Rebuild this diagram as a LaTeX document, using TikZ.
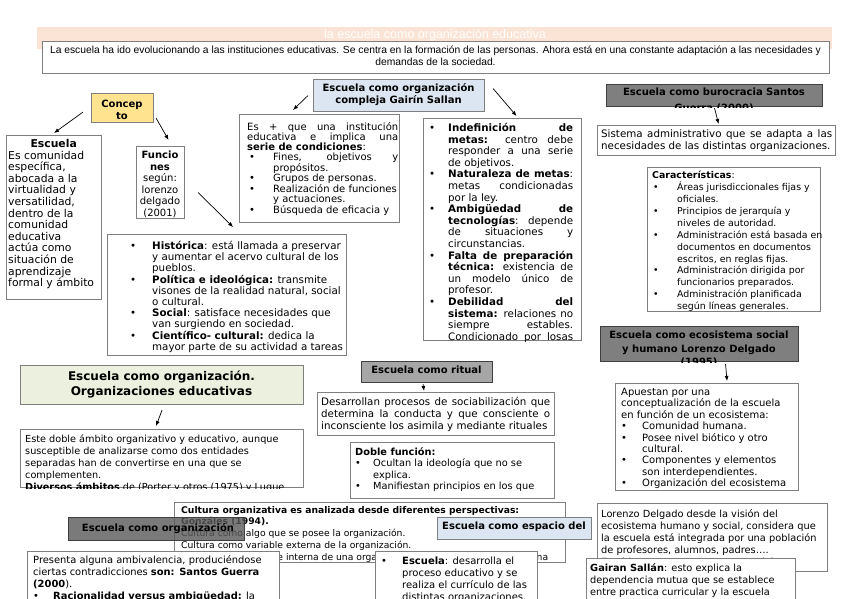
\documentclass[tikz,border=0pt]{standalone}
\usepackage{fontspec}
\setmainfont{DejaVu Sans}
\newfontfamily\introfont{Liberation Sans}
\usetikzlibrary{arrows.meta,positioning}
\definecolor{peach}{HTML}{FBE4D5}
\definecolor{boxline}{HTML}{7F7F7F}
\definecolor{darkline}{HTML}{404040}
\definecolor{conceptfill}{HTML}{FFE38F}
\definecolor{bluefill}{HTML}{DCE6F2}
\definecolor{greenfill}{HTML}{EBF1DE}
\definecolor{darkfill}{HTML}{7F7F7F}
\definecolor{ritualfill}{HTML}{A6A6A6}
\newcommand{\fsz}[2]{\fontsize{#1}{#2}\selectfont}
\newlength{\jw}\newlength{\bind}\newlength{\boff}
\newcommand{\jl}[1]{\makebox[\jw][s]{#1}}
\newcommand{\bu}{\makebox[\bind][l]{\hspace*{\boff}•}}
\newcommand{\ct}{\hspace*{\bind}}
\tikzset{
  box/.style={draw=boxline, line width=1.1pt, fill=white, anchor=north west, inner sep=0pt},
  txt/.style={anchor=north west, inner sep=0pt, align=left},
  ctxt/.style={anchor=north, inner sep=0pt, align=center, font=\fsz{10}{12}\bfseries},
  arr/.style={-{Latex[length=5pt,width=4pt]}, line width=0.7pt},
}

\begin{document}
\begin{tikzpicture}[x=1pt,y=-1pt]
\fill[white] (0,0) rectangle (848,599);
\useasboundingbox (0,0) rectangle (848,599);

% title band
\node[fill=peach, anchor=north west, minimum width=795, minimum height=22, inner sep=0pt] (banner) at (37,27) {};
\node[anchor=north, inner sep=0pt, text=white, font=\introfont\fsz{12.5}{14}] (bannertxt) at (435,29) {la escuela como organización educativa};
\node[box, minimum width=787, minimum height=32] (intro) at (42,41) {};
\node[anchor=north, inner sep=0pt, align=center, font=\introfont\fsz{10.3}{12}] (introtxt) at (435.5,46) {La escuela ha ido evolucionando a las instituciones educativas. Se centra en la formación de las personas. Ahora está en una constante adaptación a las necesidades y\\demandas de la sociedad.};

% concepto
\node[box, fill=conceptfill, minimum width=62, minimum height=29] (concepto) at (91,93) {};
\node[ctxt] (conceptotxt) at (122,100) {Concep\\to};

\node[box, minimum width=95, minimum height=164] (escuela) at (6,135) {};
\begin{scope}
\clip (escuela.north west) rectangle (escuela.south east);
\node[txt, font=\fsz{10.8}{11.6}] (escuelatxt) at (8,139) {\makebox[91pt]{\bfseries Escuela}\\Es comunidad\\específica,\\abocada a la\\virtualidad y\\versatilidad,\\dentro de la\\comunidad\\educativa\\actúa como\\situación de\\aprendizaje\\formal y ámbito};
\end{scope}

\node[box, minimum width=48, minimum height=72] (funciones) at (136,146) {};
\begin{scope}
\clip (funciones.north west) rectangle (funciones.south east);
\node[anchor=north, inner sep=0pt, align=center, font=\fsz{10}{11.5}] (funcionestxt) at (160,151) {\textbf{Funcio}\\\textbf{nes}\\según:\\lorenzo\\delgado\\(2001)};
\end{scope}

\draw[arr] ([shift={(-8,4)}]concepto.west) -- ([shift={(0,-2)}]escuela.north);
\draw[arr] ([shift={(2,-5)}]concepto.south east) -- ([shift={(8,-6)}]funciones.north);

% funciones lorenzo delgado
\node[box, minimum width=239, minimum height=121] (historica) at (107,234) {};
\setlength{\bind}{22pt}\setlength{\boff}{0pt}
\begin{scope}
\clip (historica.north west) rectangle (historica.south east);
\node[txt, font=\fsz{10.3}{11.2}] (historicatxt) at (130,241) {%
\bu\textbf{Histórica}: está llamada a preservar\\
\ct y aumentar el acervo cultural de los\\
\ct pueblos.\\
\bu\textbf{Política e ideológica:} transmite\\
\ct visones de la realidad natural, social\\
\ct o cultural.\\
\bu\textbf{Social}: satisface necesidades que\\
\ct van surgiendo en sociedad.\\
\bu\textbf{Científico- cultural:} dedica la\\
\ct mayor parte de su actividad a tareas};
\end{scope}
\draw[arr] ([shift={(13,10)}]funciones.east) -- ([shift={(6,-7)}]historica.north);

% gairin sallan
\node[box, fill=bluefill, minimum width=171, minimum height=32] (gairin) at (313,79) {};
\begin{scope}
\clip (gairin.north west) rectangle (gairin.south east);
\node[ctxt] (gairintxt) at (398.5,83) {Escuela como organización\\compleja Gairín Sallan};
\end{scope}

\node[box, minimum width=160, minimum height=108] (condiciones) at (239,114) {};
\setlength{\jw}{151pt}\setlength{\bind}{26pt}\setlength{\boff}{2pt}
\begin{scope}
\clip (condiciones.north west) rectangle (condiciones.south east);
\node[txt, font=\fsz{10}{10}] (condicionestxt) at (247,122) {%
\jl{Es + que una institución}\\
\jl{educativa e implica una}\\
\textbf{serie de condiciones}:\\
\bu\makebox[125pt][s]{Fines, objetivos y}\\
\ct propósitos.\\
\bu Grupos de personas.\\
\bu Realización de funciones\\
\ct y actuaciones.\\
\bu Búsqueda de eficacia y};
\end{scope}

\node[box, minimum width=158, minimum height=222] (metas) at (423,118) {};
\setlength{\jw}{125pt}\setlength{\bind}{19pt}\setlength{\boff}{0pt}
\begin{scope}
\clip (metas.north west) rectangle (metas.south east);
\node[txt, font=\fsz{10.3}{11.6}] (metastxt) at (429,123) {%
\bu\jl{\textbf{Indefinición de}}\\
\ct\jl{\textbf{metas:} centro debe}\\
\ct\jl{responder a una serie}\\
\ct de objetivos.\\
\bu\jl{\textbf{Naturaleza de metas}:}\\
\ct\jl{metas condicionadas}\\
\ct por la ley.\\
\bu\jl{\textbf{Ambigüedad de}}\\
\ct\jl{\textbf{tecnologías}: depende}\\
\ct\jl{de situaciones y}\\
\ct circunstancias.\\
\bu\jl{\textbf{Falta de preparación}}\\
\ct\jl{\textbf{técnica:} existencia de}\\
\ct\jl{un modelo único de}\\
\ct profesor.\\
\bu\jl{\textbf{Debilidad del}}\\
\ct\jl{\textbf{sistema:} relaciones no}\\
\ct\jl{siempre estables.}\\
\ct\jl{Condicionado por losas}};
\end{scope}
\draw[arr] ([shift={(-5,0)}]gairin.west) -- ([shift={(54,-4)}]condiciones.north west);
\draw[arr] ([shift={(8,-7)}]gairin.east) -- ([shift={(14,-2)}]metas.north);

% burocracia
\node[box, fill=darkfill, draw=darkline, minimum width=216, minimum height=22] (buro) at (606,84) {};
\begin{scope}
\clip (buro.north west) rectangle (buro.south east);
\node[ctxt, font=\fsz{10}{16}\bfseries] (burotxt) at (714,88) {Escuela como burocracia Santos\\Guerra (2000)};
\end{scope}
\node[box, minimum width=238, minimum height=30] (sistema) at (597,125) {};
\setlength{\jw}{231pt}
\node[txt, font=\fsz{10.3}{12}] (sistematxt) at (601,129) {%
\jl{Sistema administrativo que se adapta a las}\\necesidades de las distintas organizaciones.};
\draw[arr] ([shift={(0,1)}]buro.south) -- ([shift={(2,-1)}]sistema.north);

\node[box, minimum width=173, minimum height=144] (caract) at (647,167) {};
\setlength{\bind}{25pt}\setlength{\boff}{1pt}
\begin{scope}
\clip (caract.north west) rectangle (caract.south east);
\node[txt, font=\fsz{9.4}{11.9}] (caracttxt) at (652,171) {%
\textbf{Características}:\\
\bu Áreas jurisdiccionales fijas y\\
\ct oficiales.\\
\bu Principios de jerarquía y\\
\ct niveles de autoridad.\\
\bu Administración está basada en\\
\ct documentos en documentos\\
\ct escritos, en reglas fijas.\\
\bu Administración dirigida por\\
\ct funcionarios preparados.\\
\bu Administración planificada\\
\ct según líneas generales.};
\end{scope}

% organizaciones educativas
\node[box, fill=greenfill, minimum width=283, minimum height=39] (orgedu) at (20,365) {};
\node[ctxt, font=\fsz{12}{15}\bfseries] (orgedutxt) at (161.5,371) {Escuela como organización.\\Organizaciones educativas};
\node[box, minimum width=283, minimum height=58] (doble) at (20,429) {};
\begin{scope}
\clip (doble.north west) rectangle (doble.south east);
\node[txt, font=\fsz{9.7}{12}] (dobletxt) at (25,435) {Este doble ámbito organizativo y educativo, aunque\\susceptible de analizarse como dos entidades\\separadas han de convertirse en una que se\\complementen.\\\textbf{Diversos ámbitos} de (Porter y otros (1975) y Lugue};
\end{scope}
\draw[arr] ([shift={(0,5)}]orgedu.south) -- ([shift={(-6,-3)}]doble.north);

% ritual
\node[box, fill=ritualfill, draw=darkline, minimum width=131, minimum height=21] (ritual) at (361,361) {};
\node[ctxt] (ritualtxt) at (426.5,366) {Escuela como ritual};
\node[box, minimum width=237, minimum height=43] (socializa) at (317,392) {};
\setlength{\jw}{229pt}
\node[txt, font=\fsz{10.3}{12}] (socializatxt) at (321,397) {%
\jl{Desarrollan procesos de sociabilización que}\\
\jl{determina la conducta y que consciente o}\\
inconsciente los asimila y mediante rituales};
\draw[arr] ([shift={(-4,1)}]ritual.south) -- ([shift={(-12,-1)}]socializa.north);
\node[box, minimum width=204, minimum height=56] (funcion) at (350,442) {};
\setlength{\bind}{18pt}\setlength{\boff}{0pt}
\begin{scope}
\clip (funcion.north west) rectangle (funcion.south east);
\node[txt, font=\fsz{9.8}{11.5}] (funciontxt) at (355,447) {%
\textbf{Doble función:}\\
\bu Ocultan la ideología que no se\\
\ct explica.\\
\bu Manifiestan principios en los que};
\end{scope}

% ecosistema
\node[box, fill=darkfill, draw=darkline, minimum width=198, minimum height=35] (eco) at (600,326) {};
\begin{scope}
\clip (eco.north west) rectangle (eco.south east);
\node[ctxt, font=\fsz{10}{13.5}\bfseries] (ecotxt) at (699,331) {Escuela como ecosistema social\\y humano Lorenzo Delgado\\(1995)};
\end{scope}
\node[box, minimum width=183, minimum height=107] (apuestan) at (615,383) {};
\setlength{\bind}{21pt}\setlength{\boff}{0pt}
\begin{scope}
\clip (apuestan.north west) rectangle (apuestan.south east);
\node[txt, font=\fsz{10}{11.4}] (apuestantxt) at (621,388) {%
Apuestan por una\\
conceptualización de la escuela\\
en función de un ecosistema:\\
\bu Comunidad humana.\\
\bu Posee nivel biótico y otro\\
\ct cultural.\\
\bu Componentes y elementos\\
\ct son interdependientes.\\
\bu Organización del ecosistema};
\end{scope}
\draw[arr] ([shift={(26,2)}]eco.south) -- ([shift={(20,-2)}]apuestan.north);

% cultura organizativa
\node[box, minimum width=391, minimum height=60] (cultura) at (174,502) {};
\begin{scope}
\clip (cultura.north west) rectangle (cultura.south east);
\node[txt, font=\fsz{9.2}{11.8}] (culturatxt) at (181,506) {%
\textbf{Cultura organizativa es analizada desde diferentes perspectivas:}\\
\textbf{Gonzáles (1994).}\\
Cultura como algo que se posee la organización.\\
Cultura como variable externa de la organización.\\
\makebox[367pt][l]{Cultura como variable interna de una organización\hfill humana}};
\end{scope}
\node[box, fill=black!65, fill opacity=0.8, draw=darkline, minimum width=176, minimum height=23] (orgdark) at (68,517) {};
\node[ctxt] (orgdarktxt) at (158,523) {Escuela como organización};

\node[box, minimum width=252, minimum height=60] (presenta) at (27,551) {};
\setlength{\bind}{20pt}\setlength{\boff}{0pt}
\node[txt, font=\fsz{9.9}{12}] (presentatxt) at (33,555) {%
Presenta alguna ambivalencia, produciéndose\\
ciertas contradicciones \textbf{son: Santos Guerra}\\
\textbf{(2000}).\\
\bu\textbf{Racionalidad versus ambigüedad:} la};

\node[box, fill=bluefill, minimum width=154, minimum height=22] (espacio) at (437,517) {};
\node[ctxt] (espaciotxt) at (514,522) {Escuela como espacio del};

\node[box, minimum width=162, minimum height=60] (curriculo) at (375,551) {};
\setlength{\bind}{21pt}\setlength{\boff}{0pt}
\node[txt, font=\fsz{10}{12}] (curriculotxt) at (381,557) {%
\bu\textbf{Escuela}: desarrolla el\\
\ct proceso educativo y se\\
\ct realiza el currículo de las\\
\ct distintas organizaciones.};

% lorenzo delgado
\node[box, minimum width=230, minimum height=68] (lorenzo) at (597,503) {};
\begin{scope}
\clip (lorenzo.north west) rectangle (lorenzo.south east);
\node[txt, font=\fsz{9.8}{12}] (lorenzotxt) at (601,509) {Lorenzo Delgado desde la visión del\\ecosistema humano y social, considera que\\la escuela está integrada por una población\\de profesores, alumnos, padres….\\Establecen una estructura espacial que};
\end{scope}
\node[box, minimum width=209, minimum height=60] (gairan) at (586,558) {};
\node[txt, font=\fsz{9.8}{12}] (gairantxt) at (590,563) {\textbf{Gairan Sallán}: esto explica la\\dependencia mutua que se establece\\entre practica curricular y la escuela};
\end{tikzpicture}
\end{document}
